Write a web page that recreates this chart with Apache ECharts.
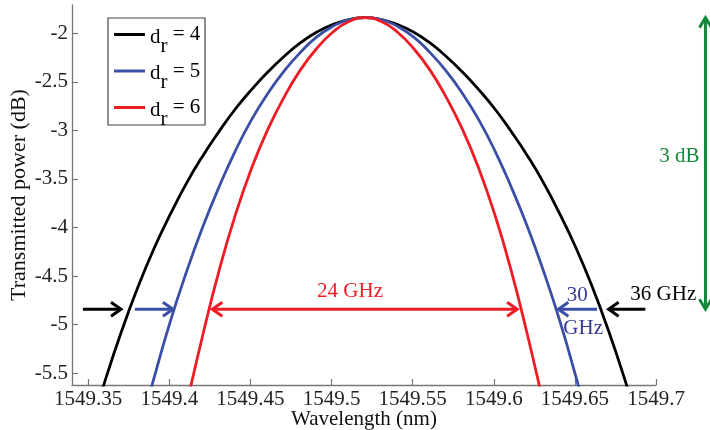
<!DOCTYPE html>
<html>
<head>
<meta charset="utf-8">
<script src="https://cdn.jsdelivr.net/npm/echarts@6/dist/echarts.min.js"></script>
<style>
  html, body { margin: 0; padding: 0; background: #ffffff; }
  #chart { width: 710px; height: 430px; }
</style>
</head>
<body>
<div id="chart"></div>
<script>
// Transmission spectra (wavelength in nm, power in dB) for three ring orders d_r
const wavelengthDr4 = [1549.3507, 1549.3607, 1549.3707, 1549.3807, 1549.3907, 1549.4007, 1549.4107, 1549.4207,
  1549.4307, 1549.4407, 1549.4507, 1549.4607, 1549.4707, 1549.4807, 1549.4907, 1549.5007, 1549.5107,
  1549.5207, 1549.5307, 1549.5407, 1549.5507, 1549.5607, 1549.5707, 1549.5807, 1549.5907, 1549.6007,
  1549.6107, 1549.6207, 1549.6307, 1549.6407, 1549.6507, 1549.6607, 1549.6707, 1549.6807, 1549.6907];
const powerDr4 = [-6.11, -5.56, -5.06, -4.61, -4.21, -3.86, -3.54, -3.26,
  -3.01, -2.78, -2.58, -2.40, -2.24, -2.10, -1.99, -1.91, -1.86,
  -1.84, -1.86, -1.91, -1.99, -2.10, -2.24, -2.40, -2.58, -2.78,
  -3.01, -3.26, -3.54, -3.86, -4.21, -4.61, -5.06, -5.56, -6.11];

const wavelengthDr5 = [1549.3807, 1549.3907, 1549.4007, 1549.4107, 1549.4207, 1549.4307, 1549.4407, 1549.4507,
  1549.4607, 1549.4707, 1549.4807, 1549.4907, 1549.5007, 1549.5107, 1549.5207, 1549.5307, 1549.5407,
  1549.5507, 1549.5607, 1549.5707, 1549.5807, 1549.5907, 1549.6007, 1549.6107, 1549.6207, 1549.6307,
  1549.6407, 1549.6507, 1549.6607];
const powerDr5 = [-6.17, -5.54, -4.96, -4.45, -3.99, -3.58, -3.21, -2.89,
  -2.62, -2.39, -2.20, -2.04, -1.93, -1.86, -1.84, -1.86, -1.93,
  -2.04, -2.20, -2.39, -2.62, -2.89, -3.21, -3.58, -3.99, -4.45,
  -4.96, -5.54, -6.17];

const wavelengthDr6 = [1549.4007, 1549.4107, 1549.4207, 1549.4307, 1549.4407, 1549.4507, 1549.4607, 1549.4707,
  1549.4807, 1549.4907, 1549.5007, 1549.5107, 1549.5207, 1549.5307, 1549.5407, 1549.5507, 1549.5607,
  1549.5707, 1549.5807, 1549.5907, 1549.6007, 1549.6107, 1549.6207, 1549.6307, 1549.6407];
const powerDr6 = [-6.59, -5.82, -5.10, -4.44, -3.87, -3.39, -2.99, -2.66,
  -2.38, -2.16, -1.99, -1.88, -1.84, -1.88, -1.99, -2.16, -2.38,
  -2.66, -2.99, -3.39, -3.87, -4.44, -5.10, -5.82, -6.59];

const seriesNames = ['d_r = 4', 'd_r = 5', 'd_r = 6'];
const seriesColors = ['#000000', '#3b4fa6', '#ee1c25'];

const xTickValues = [1549.35, 1549.4, 1549.45, 1549.5, 1549.55, 1549.6, 1549.65, 1549.7];
const yTickValues = [-5.5, -5, -4.5, -4, -3.5, -3, -2.5, -2];

// Bandwidth annotations: peak level and the 3 dB-down level where widths are marked
const peakPower = -1.84;
const dropDb = 3;
const halfPowerLevel = peakPower - dropDb;
const bandwidthLabels = ['24 GHz', '30', 'GHz', '36 GHz', '3 dB'];

const FONT = "'Liberation Serif', 'Times New Roman', serif";

const chart = echarts.init(document.getElementById('chart'), null, { renderer: 'canvas' });

function pairs(xs, ys) {
  return xs.map((x, i) => [x, ys[i]]);
}

const seriesData = [
  pairs(wavelengthDr4, powerDr4),
  pairs(wavelengthDr5, powerDr5),
  pairs(wavelengthDr6, powerDr6)
];

chart.setOption({
  animation: false,
  backgroundColor: '#ffffff',
  grid: { left: 72, right: 54, top: 5, bottom: 45, outerBoundsMode: 'none', containLabel: false },
  legend: {
    orient: 'vertical',
    left: 108,
    top: 18,
    padding: [6, 9, 0, 6],
    itemGap: 4,
    itemWidth: 31,
    itemHeight: 3,
    icon: 'rect',
    borderWidth: 0,
    selectedMode: false,
    data: seriesNames,
    formatter: function (name) {
      const rest = name.split('_')[1];          // "r = 4"
      return '{d|d}{s|' + rest.charAt(0) + '}{t|' + rest.slice(1) + '}';
    },
    textStyle: {
      fontFamily: FONT,
      fontSize: 21,
      color: '#000',
      rich: {
        d: { fontFamily: FONT, fontSize: 21, lineHeight: 20, color: '#000', padding: [2, 0, 0, 0], verticalAlign: 'top' },
        s: { fontFamily: FONT, fontSize: 21, lineHeight: 20, color: '#000', padding: [11, 0, 0, 0], verticalAlign: 'top' },
        t: { fontFamily: FONT, fontSize: 21, lineHeight: 20, color: '#000' }
      }
    }
  },
  xAxis: {
    type: 'value',
    min: 1549.34,
    max: 1549.7,
    name: 'Wavelength (nm)',
    nameLocation: 'middle',
    nameGap: 24,
    nameMoveOverlap: false,
    nameTextStyle: { fontFamily: FONT, fontSize: 21, color: '#111' },
    axisLine: { show: true, lineStyle: { color: '#777', width: 1.3 } },
    axisTick: { show: true, inside: true, length: 6, customValues: xTickValues, lineStyle: { color: '#777', width: 1.2 } },
    axisLabel: {
      customValues: xTickValues,
      margin: 4,
      fontFamily: FONT,
      fontSize: 21,
      color: '#222',
      formatter: v => String(v)
    },
    splitLine: { show: false }
  },
  yAxis: {
    type: 'value',
    min: -5.62,
    max: -1.71,
    name: 'Transmitted power (dB)',
    nameLocation: 'middle',
    nameGap: 42,
    nameMoveOverlap: false,
    nameTextStyle: { fontFamily: FONT, fontSize: 22, color: '#111' },
    axisLine: { show: true, lineStyle: { color: '#777', width: 1.3 } },
    axisTick: { show: true, inside: true, length: 6, customValues: yTickValues, lineStyle: { color: '#777', width: 1.2 } },
    axisLabel: {
      customValues: yTickValues,
      margin: 4,
      fontFamily: FONT,
      fontSize: 21,
      color: '#222',
      formatter: v => String(v)
    },
    splitLine: { show: false }
  },
  series: seriesNames.map((name, i) => ({
    name: name,
    type: 'line',
    data: seriesData[i],
    showSymbol: false,
    smooth: 0.5,
    clip: true,
    color: seriesColors[i],
    lineStyle: { color: seriesColors[i], width: 2.8 },
    z: 2 + i
  }))
});

// Arrow annotations marking the 3 dB bandwidth of each curve
function px(x, y) {
  return chart.convertToPixel({ gridIndex: 0 }, [x, y]);
}

function hArrowHead(tip, dir, color) {
  return {
    type: 'polyline',
    shape: { points: [[tip[0] - dir * 10, tip[1] - 7], tip, [tip[0] - dir * 10, tip[1] + 7]] },
    style: { stroke: color, fill: null, lineWidth: 3, lineJoin: 'miter' },
    z: 20
  };
}

function vArrowHead(tip, dir, color) {
  return {
    type: 'polyline',
    shape: { points: [[tip[0] - 6, tip[1] - dir * 10], tip, [tip[0] + 6, tip[1] - dir * 10]] },
    style: { stroke: color, fill: null, lineWidth: 3, lineJoin: 'miter' },
    z: 20
  };
}

function shaft(a, b, color) {
  return {
    type: 'line',
    shape: { x1: a[0], y1: a[1], x2: b[0], y2: b[1] },
    style: { stroke: color, lineWidth: 3 },
    z: 20
  };
}

function label(text, x, y, color, align) {
  return {
    type: 'text',
    x: x,
    y: y,
    style: {
      text: text,
      fill: color,
      font: '21px ' + FONT,
      align: align || 'center',
      verticalAlign: 'middle'
    },
    z: 21
  };
}

// arrow shafts at the half-power level: [tail wavelength, tip wavelength]
const blackLeftArrow = [1549.3467, 1549.3702];
const blueLeftArrow = [1549.3788, 1549.4022];
const redSpanArrow = [1549.4265, 1549.6144];
const blueRightArrow = [1549.6636, 1549.6398];
const blackRightArrow = [1549.6934, 1549.6708];
const dropArrowWavelength = 1549.7305;
// label anchor wavelengths
const redLabelWavelength = 1549.5114;
const blueLabelWavelengths = [1549.6514, 1549.6551];
const blackLabelWavelength = 1549.7045;

function drawAnnotations() {
  const els = [];
  const black = '#000000', blue = '#3b4fa6', red = '#ee1c25', green = '#15883c', blueText = '#333a99';

  // frame around the legend
  els.push({
    type: 'rect',
    shape: { x: 108, y: 18, width: 97, height: 107 },
    style: { fill: null, stroke: '#444', lineWidth: 1.2 },
    z: 1
  });

  const addArrow = (span, color) => {
    const tail = px(span[0], halfPowerLevel);
    const tip = px(span[1], halfPowerLevel);
    const dir = tip[0] > tail[0] ? 1 : -1;
    els.push(shaft(tail, [tip[0] - dir * 1.5, tip[1]], color));
    els.push(hArrowHead(tip, dir, color));
  };
  addArrow(blackLeftArrow, black);
  addArrow(blueLeftArrow, blue);
  addArrow(blueRightArrow, blue);
  addArrow(blackRightArrow, black);

  // double-headed span for d_r = 6
  const rA = px(redSpanArrow[0], halfPowerLevel);
  const rB = px(redSpanArrow[1], halfPowerLevel);
  els.push(shaft(rA, rB, red));
  els.push(hArrowHead(rA, -1, red));
  els.push(hArrowHead(rB, 1, red));

  // vertical 3 dB arrow from the peak down to the half-power level
  const gTop = px(dropArrowWavelength, peakPower);
  const gBot = px(dropArrowWavelength, halfPowerLevel);
  els.push(shaft(gTop, gBot, green));
  els.push(vArrowHead(gTop, -1, green));
  els.push(vArrowHead(gBot, 1, green));

  const y0 = rA[1];
  els.push(label(bandwidthLabels[0], px(redLabelWavelength, halfPowerLevel)[0], y0 - 18, red));
  els.push(label(bandwidthLabels[1], px(blueLabelWavelengths[0], halfPowerLevel)[0], y0 - 14, blueText));
  els.push(label(bandwidthLabels[2], px(blueLabelWavelengths[1], halfPowerLevel)[0], y0 + 19, blueText));
  els.push(label(bandwidthLabels[3], px(blackLabelWavelength, halfPowerLevel)[0], y0 - 15, black));
  els.push(label(bandwidthLabels[4], gTop[0] - 6, (gTop[1] + gBot[1]) / 2 - 7, green, 'right'));

  chart.setOption({ graphic: { elements: els } });
}

drawAnnotations();
</script>
</body>
</html>
